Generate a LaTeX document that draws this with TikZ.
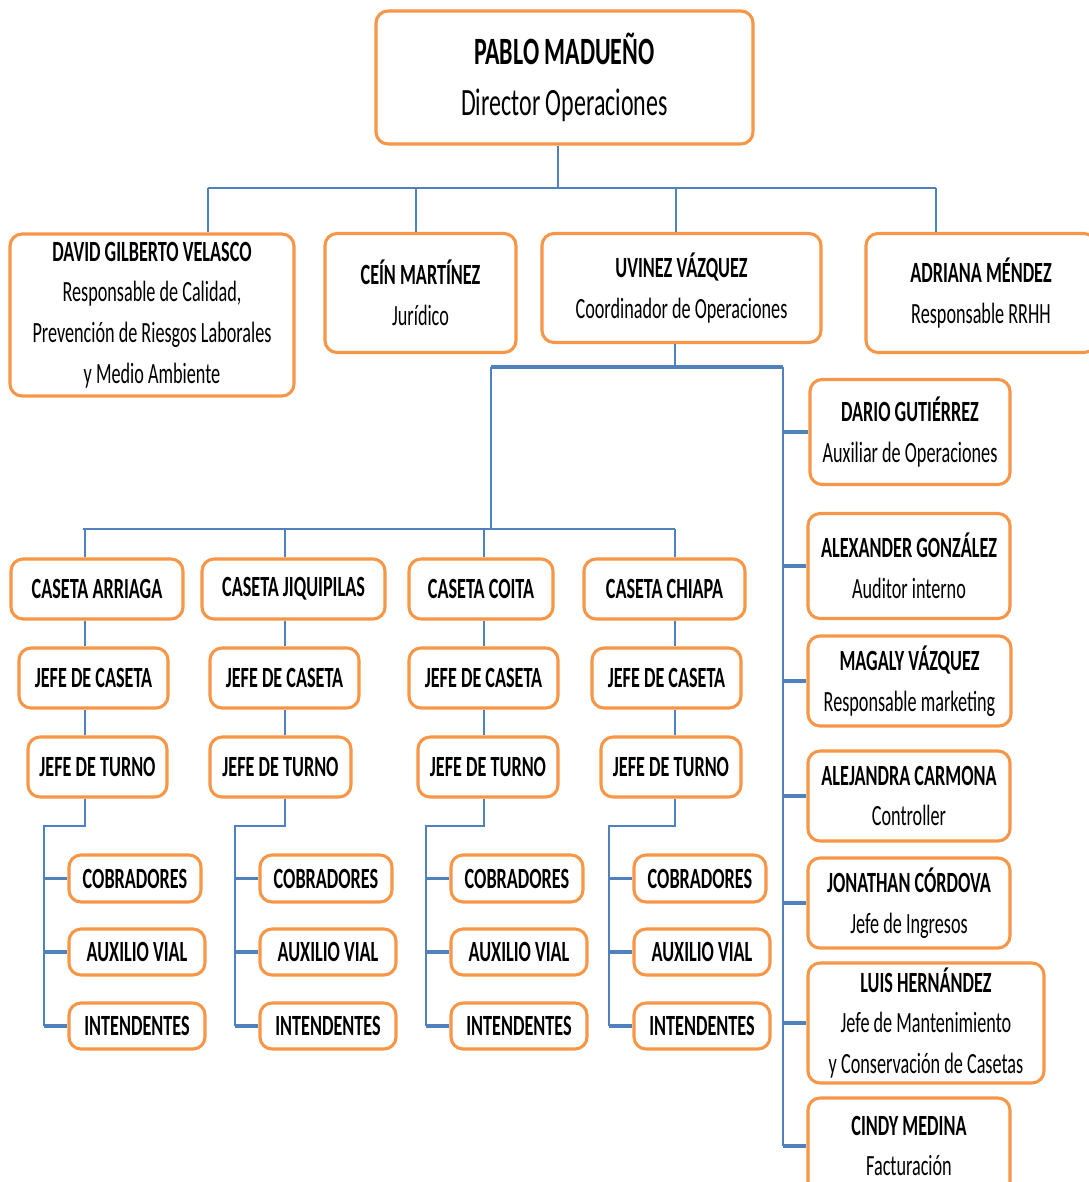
\documentclass[tikz,border=0pt]{standalone}
\usepackage{fontspec}
\setmainfont{Carlito}[FakeStretch=0.62]
\usetikzlibrary{positioning}
\definecolor{borange}{HTML}{F79646}
\definecolor{lblue}{HTML}{4F81BD}
\newcommand{\px}{0.75pt}
\tikzset{orgbox/.style 2 args = {draw=borange, line width=2.3pt, rounded corners=9pt,
                                 fill=white, align=center, inner sep=0pt,
                                 minimum width=#1*\px, minimum height=#2*\px,
                                 font=\fontsize{22}{30.5}\selectfont},
         link/.style = {draw=lblue, line width=1.6pt},
         thinlink/.style = {draw=lblue, line width=1pt},
         stub/.style = {draw=lblue, line width=2.4pt}}

\begin{document}
\begin{tikzpicture}[x=0.75pt, y=-0.75pt]
    \useasboundingbox (0, 0) rectangle (1089, 1182);

    % direccion
    \node [orgbox={377}{133}, font=\fontsize{29}{38}\selectfont] (pablo) at (564.5, 77.5)
      {\textbf{PABLO MADUEÑO}\\Director Operaciones};
    \node [orgbox={284}{162}] (david) at (152, 315)
      {\textbf{DAVID GILBERTO VELASCO}\\Responsable de Calidad,\\Prevención de Riesgos Laborales\\y Medio Ambiente};
    \node [orgbox={191}{119}] (cein) at (420.5, 293) {\textbf{CEÍN MARTÍNEZ}\\Jurídico};
    \node [orgbox={279}{109}] (uvinez) at (681.5, 288) {\textbf{UVINEZ VÁZQUEZ}\\Coordinador de Operaciones};
    \node [orgbox={230}{119}] (adriana) at (981, 293) {\textbf{ADRIANA MÉNDEZ}\\Responsable RRHH};

    \coordinate (topbus) at (558, 188);
    \coordinate (busL) at (208, 188);
    \coordinate (busC) at (416, 188);
    \coordinate (busU) at (676, 188);
    \coordinate (busR) at (936, 188);
    \draw [link] (topbus |- pablo.south) -- (topbus);
    \draw [link] (busL) -- (busR);
    \draw [link] (busL) -- (busL |- david.north);
    \draw [link] (busC) -- (busC |- cein.north);
    \draw [link] (busU) -- (busU |- uvinez.north);
    \draw [link] (busR) -- (busR |- adriana.north);

    % coordinacion de operaciones
    \node [orgbox={200}{105}] (dario) at (910, 432) {\textbf{DARIO GUTIÉRREZ}\\Auxiliar de Operaciones};
    \node [orgbox={202}{105}] (alexander) at (909, 566) {\textbf{ALEXANDER GONZÁLEZ}\\Auditor interno};
    \node [orgbox={203}{90}] (magaly) at (909.5, 681) {\textbf{MAGALY VÁZQUEZ}\\Responsable marketing};
    \node [orgbox={202}{90}] (alejandra) at (909, 796) {\textbf{ALEJANDRA CARMONA}\\Controller};
    \node [orgbox={202}{90}] (jonathan) at (909, 903) {\textbf{JONATHAN CÓRDOVA}\\Jefe de Ingresos};
    \node [orgbox={236}{120}] (luis) at (926, 1023)
      {\textbf{LUIS HERNÁNDEZ}\\Jefe de Mantenimiento\\y Conservación de Casetas};
    \node [orgbox={202}{96}] (cindy) at (909, 1146) {\textbf{CINDY MEDINA}\\Facturación};

    \coordinate (uvbus) at (675, 367);
    \coordinate (midL) at (491, 367);
    \coordinate (midR) at (783, 367);
    \draw [link] (uvbus |- uvinez.south) -- (uvbus);
    \draw [stub] (midL) -- (midR);
    \draw [link] (midR) -- (midR |- cindy.west);
    \draw [stub] (midR |- dario.west) -- (dario.west);
    \draw [stub] (midR |- alexander.west) -- (alexander.west);
    \draw [stub] (midR |- magaly.west) -- (magaly.west);
    \draw [stub] (midR |- alejandra.west) -- (alejandra.west);
    \draw [stub] (midR |- jonathan.west) -- (jonathan.west);
    \draw [stub] (midR |- luis.west) -- (luis.west);
    \draw [stub] (midR |- cindy.west) -- (cindy.west);

    % casetas
    \node [orgbox={172}{60}] (arriaga) at (97, 589) {\textbf{CASETA ARRIAGA}};
    \node [orgbox={183}{60}] (jiquipilas) at (293.5, 589) {\textbf{CASETA JIQUIPILAS}};
    \node [orgbox={144}{60}] (coita) at (481, 589) {\textbf{CASETA COITA}};
    \node [orgbox={161}{60}] (chiapa) at (664.5, 589) {\textbf{CASETA CHIAPA}};

    \node [orgbox={149}{60}] (jcaseta1) at (93.5, 678) {\textbf{JEFE DE CASETA}};
    \node [orgbox={149}{60}] (jcaseta2) at (284.5, 678) {\textbf{JEFE DE CASETA}};
    \node [orgbox={149}{60}] (jcaseta3) at (483.5, 678) {\textbf{JEFE DE CASETA}};
    \node [orgbox={149}{60}] (jcaseta4) at (666.5, 678) {\textbf{JEFE DE CASETA}};

    \node [orgbox={139}{60}] (jturno1) at (97.5, 767) {\textbf{JEFE DE TURNO}};
    \node [orgbox={141}{60}] (jturno2) at (280.5, 767) {\textbf{JEFE DE TURNO}};
    \node [orgbox={140}{60}] (jturno3) at (488, 767) {\textbf{JEFE DE TURNO}};
    \node [orgbox={140}{60}] (jturno4) at (671, 767) {\textbf{JEFE DE TURNO}};

    \node [orgbox={132}{47}] (cob1) at (135, 878.5) {\textbf{COBRADORES}};
    \node [orgbox={132}{47}] (cob2) at (326, 878.5) {\textbf{COBRADORES}};
    \node [orgbox={132}{47}] (cob3) at (517, 878.5) {\textbf{COBRADORES}};
    \node [orgbox={132}{47}] (cob4) at (700, 878.5) {\textbf{COBRADORES}};

    \node [orgbox={136}{46}] (aux1) at (137, 952) {\textbf{AUXILIO VIAL}};
    \node [orgbox={136}{46}] (aux2) at (328, 952) {\textbf{AUXILIO VIAL}};
    \node [orgbox={136}{46}] (aux3) at (519, 952) {\textbf{AUXILIO VIAL}};
    \node [orgbox={136}{46}] (aux4) at (702, 952) {\textbf{AUXILIO VIAL}};

    \node [orgbox={136}{46}] (int1) at (137, 1026) {\textbf{INTENDENTES}};
    \node [orgbox={136}{46}] (int2) at (328, 1026) {\textbf{INTENDENTES}};
    \node [orgbox={136}{46}] (int3) at (519, 1026) {\textbf{INTENDENTES}};
    \node [orgbox={136}{46}] (int4) at (702, 1026) {\textbf{INTENDENTES}};

    \coordinate (lowbus) at (491, 529);
    \coordinate (d1) at (85, 529);
    \coordinate (d2) at (285, 529);
    \coordinate (d3) at (484, 529);
    \coordinate (d4) at (675, 529);
    \coordinate (e1) at (44, 826);
    \coordinate (e2) at (235, 826);
    \coordinate (e3) at (426, 826);
    \coordinate (e4) at (609, 826);
    \draw [link] (midL) -- (lowbus);
    \draw [link] (83, 529) -- (d4);

    \draw [thinlink] (d1) -- (d1 |- arriaga.north);
    \draw [thinlink] (d1 |- arriaga.south) -- (d1 |- jcaseta1.north);
    \draw [thinlink] (d1 |- jcaseta1.south) -- (d1 |- jturno1.north);
    \draw [thinlink] (d1 |- jturno1.south) |- (e1) -- (e1 |- int1.west);
    \draw [stub] (e1 |- cob1.west) -- (cob1.west);
    \draw [stub] (e1 |- aux1.west) -- (aux1.west);
    \draw [stub] (e1 |- int1.west) -- (int1.west);

    \draw [thinlink] (d2) -- (d2 |- jiquipilas.north);
    \draw [thinlink] (d2 |- jiquipilas.south) -- (d2 |- jcaseta2.north);
    \draw [thinlink] (d2 |- jcaseta2.south) -- (d2 |- jturno2.north);
    \draw [thinlink] (d2 |- jturno2.south) |- (e2) -- (e2 |- int2.west);
    \draw [stub] (e2 |- cob2.west) -- (cob2.west);
    \draw [stub] (e2 |- aux2.west) -- (aux2.west);
    \draw [stub] (e2 |- int2.west) -- (int2.west);

    \draw [thinlink] (d3) -- (d3 |- coita.north);
    \draw [thinlink] (d3 |- coita.south) -- (d3 |- jcaseta3.north);
    \draw [thinlink] (d3 |- jcaseta3.south) -- (d3 |- jturno3.north);
    \draw [thinlink] (d3 |- jturno3.south) |- (e3) -- (e3 |- int3.west);
    \draw [stub] (e3 |- cob3.west) -- (cob3.west);
    \draw [stub] (e3 |- aux3.west) -- (aux3.west);
    \draw [stub] (e3 |- int3.west) -- (int3.west);

    \draw [thinlink] (d4) -- (d4 |- chiapa.north);
    \draw [thinlink] (d4 |- chiapa.south) -- (d4 |- jcaseta4.north);
    \draw [thinlink] (d4 |- jcaseta4.south) -- (d4 |- jturno4.north);
    \draw [thinlink] (d4 |- jturno4.south) |- (e4) -- (e4 |- int4.west);
    \draw [stub] (e4 |- cob4.west) -- (cob4.west);
    \draw [stub] (e4 |- aux4.west) -- (aux4.west);
    \draw [stub] (e4 |- int4.west) -- (int4.west);
  \end{tikzpicture}
\end{document}
